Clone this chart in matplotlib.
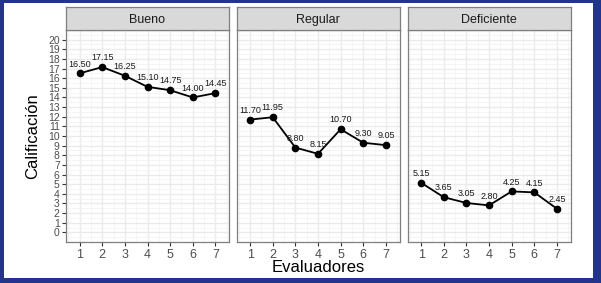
import numpy as np
import matplotlib
matplotlib.use('Agg')
from matplotlib import pyplot as plt
from matplotlib.patches import Rectangle

plt.rcParams['font.family'] = ['Liberation Sans', 'DejaVu Sans']

# datos
evaluadores = [1, 2, 3, 4, 5, 6, 7]
paneles = ['Bueno', 'Regular', 'Deficiente']
bueno = [16.50, 17.15, 16.25, 15.10, 14.75, 14.00, 14.45]
regular = [11.70, 11.95, 8.80, 8.15, 10.70, 9.30, 9.05]
deficiente = [5.15, 3.65, 3.05, 2.80, 4.25, 4.15, 2.45]
series = [bueno, regular, deficiente]
y_ticks = list(range(0, 21))

W, H = 601, 283
fig = plt.figure(figsize=(W / 100, H / 100), dpi=100)
fig.patch.set_facecolor('#22358A')
# fondo blanco interior
fig.patches.append(Rectangle((4 / W, 5 / H), (593 - 4) / W, (280 - 5) / H,
                             transform=fig.transFigure, facecolor='white',
                             edgecolor='none', zorder=-10))

lefts = [66, 236.5, 407.5]
ancho = 163
y_bot, y_top, strip_top = 242, 30, 7
gris_txt = '#4D4D4D'

for i, (nombre, valores) in enumerate(zip(paneles, series)):
    x0 = lefts[i] / W
    ax = fig.add_axes([x0, (H - y_bot) / H, ancho / W, (y_bot - y_top) / H])
    ax.set_xlim(0.4, 7.6)
    ax.set_ylim(-1, 21)
    ax.set_xticks(evaluadores)
    ax.set_xticks(np.arange(0.5, 8, 1), minor=True)
    ax.set_yticks(y_ticks)
    ax.set_yticks(np.arange(-0.5, 21, 1), minor=True)
    ax.grid(True, which='major', color='#EBEBEB', lw=1.0, zorder=0)
    ax.grid(True, which='minor', color='#F2F2F2', lw=0.5, zorder=0)
    for s in ax.spines.values():
        s.set_color('#7F7F7F')
        s.set_linewidth(0.9)
    ax.tick_params(which='minor', length=0)
    ax.tick_params(which='major', length=3, width=0.8, color='#333333',
                   labelcolor=gris_txt, labelsize=9, pad=2)
    ax.tick_params(axis='y', labelsize=7.5, pad=1.5)
    if i > 0:
        ax.tick_params(axis='y', left=False, labelleft=False)
    ax.set_axisbelow(True)

    ax.plot(evaluadores, valores, color='black', lw=1.3, marker='o', ms=4.5, zorder=3)
    for x, v in zip(evaluadores, valores):
        ax.annotate('%.2f' % v, (x, v), xytext=(0, 3.5), textcoords='offset points',
                    ha='center', va='bottom', fontsize=6.5, color='#1A1A1A', zorder=4)

    # franja del panel
    sx = fig.add_axes([x0, (H - y_top) / H, ancho / W, (y_top - strip_top) / H])
    sx.set_facecolor('#D9D9D9')
    sx.set_xticks([])
    sx.set_yticks([])
    for s in sx.spines.values():
        s.set_color('#7F7F7F')
        s.set_linewidth(0.9)
    sx.text(0.5, 0.5, nombre, ha='center', va='center_baseline', fontsize=9,
            color='#1A1A1A', transform=sx.transAxes)

fig.text(33 / W, 1 - 136 / H, 'Calificación', rotation=90, ha='center', va='center',
         fontsize=12, color='black')
fig.text(318.5 / W, 1 - 268 / H, 'Evaluadores', ha='center', va='center',
         fontsize=12, color='black')

plt.savefig('out.png', dpi=100, facecolor=fig.get_facecolor())
